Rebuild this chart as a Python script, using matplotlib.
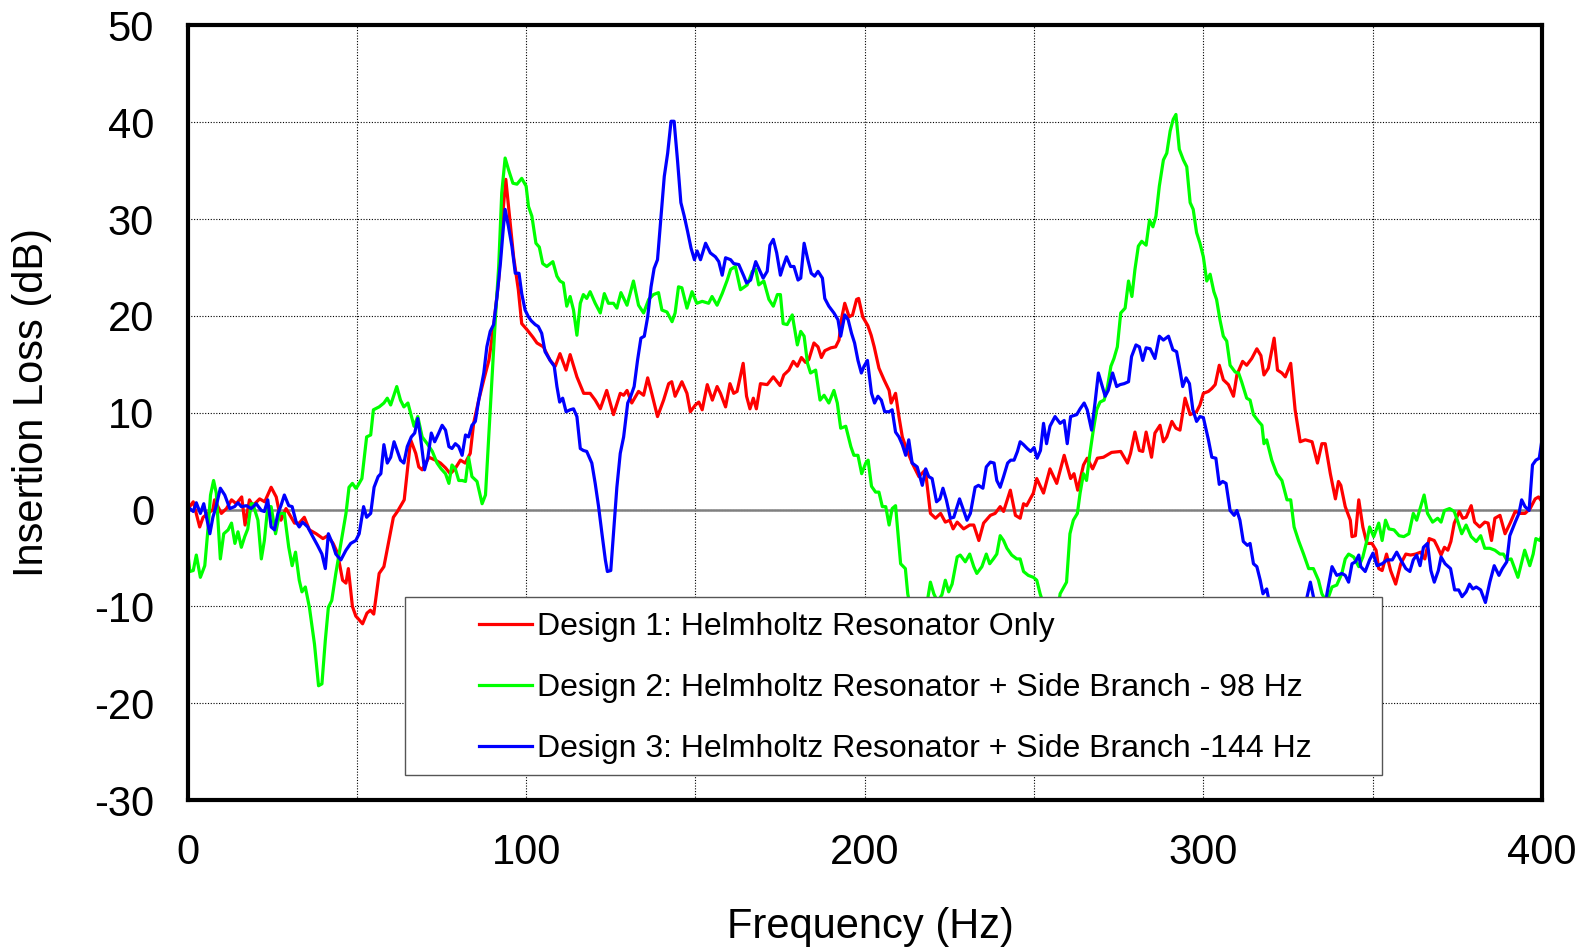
import numpy as np
import matplotlib
matplotlib.use("Agg")
import matplotlib.pyplot as plt
from matplotlib.patches import Rectangle

# (frequency Hz, insertion loss dB)
design1 = [(0, 0.0), (1.7, 0.8), (3.6, -1.8), (4.6, -0.8), (7.5, 0.0), (8, 1.0), (10, -0.4), (11.5, 0.1),
           (13, 1.0), (14.4, 0.6), (16, 1.3), (17, -1.6), (18.3, 1.0), (19.3, 0.4), (21.3, 1.1), (22.8, 0.8),
           (24.7, 2.3), (26.2, 1.3), (27.6, -1.1), (29.1, 0.1), (30.6, -0.8), (31.6, -1.4), (33, -1.4),
           (34.5, -0.8), (36, -2.1), (38, -2.5), (40, -3.0), (41.4, -2.7), (43, -3.5), (44.3, -4.5),
           (45.8, -7.3), (46.8, -7.6), (47.5, -6.1), (48.7, -10.0), (49.7, -11.0), (51.7, -11.8), (53, -10.7),
           (54, -10.4), (55, -10.8), (56.6, -6.6), (58, -5.9), (59.5, -3.2), (60.8, -0.8), (62, -0.2),
           (64, 1.0), (65.9, 7.2), (67.4, 5.8), (68.3, 4.4), (69.3, 4.1), (71.3, 5.4), (73.2, 5.1),
           (74.7, 4.8), (76.2, 4.3), (77.6, 3.7), (79, 4.2), (80.6, 5.1), (82, 4.8), (83.5, 5.8), (84.5, 8.9),
           (86, 11.3), (87.5, 13.4), (89, 15.4), (90.4, 18.9), (91.9, 23.7), (93.3, 31.3), (94, 34.1),
           (94.8, 31.3), (96.3, 26.1), (97.7, 22.7), (98.7, 19.2), (100.2, 18.6), (102, 17.8), (103.2, 17.2),
           (105.1, 16.8), (107.1, 15.4), (108.6, 14.8), (110, 16.1), (111.8, 14.4), (113, 16.0), (115, 13.7),
           (117, 12.0), (118.9, 12.0), (120.4, 11.3), (121.9, 10.4), (123.8, 12.3), (125.8, 9.8), (127.8, 12.0),
           (128.8, 11.8), (129.8, 12.3), (131.2, 11.0), (133.2, 12.2), (134.7, 11.8), (135.9, 13.6),
           (137.1, 12.0), (138.8, 9.6), (140.6, 11.3), (142.1, 13.0), (143, 13.2), (144, 11.7), (146, 13.2),
           (147.5, 12.0), (148.5, 10.1), (150, 10.8), (151, 11.1), (152, 10.3), (153.5, 12.9), (155, 11.3),
           (156.4, 12.7), (157.4, 12.0), (158.9, 10.6), (160.2, 13.0), (161.3, 12.0), (162.3, 12.2),
           (164.1, 15.1), (165.1, 11.7), (166.1, 10.4), (167.1, 11.5), (168, 10.4), (169.2, 13.0), (171.2, 12.9),
           (173, 13.7), (175, 12.8), (176.1, 13.9), (177.6, 14.4), (178.9, 15.3), (180.1, 14.8), (181.3, 15.7),
           (182.5, 15.2), (183.5, 15.5), (185, 17.2), (186.2, 16.8), (187.2, 15.7), (188.2, 16.4), (190, 16.7),
           (191.4, 16.8), (192.4, 17.5), (193.2, 19.8), (194.1, 21.3), (195.4, 19.9), (196.4, 20.1),
           (197.6, 21.7), (198.2, 21.8), (199.4, 19.9), (200.9, 19.0), (201.9, 18.0), (202.8, 16.8),
           (204.2, 14.6), (205.7, 13.4), (207.2, 12.3), (207.8, 11.0), (209.1, 12.0), (210.1, 9.6), (211.1, 7.5),
           (212.5, 6.1), (214, 4.8), (216, 3.4), (217.9, 4.1), (219.4, -0.4), (220.9, -0.9), (222.4, -0.4),
           (223.8, -1.3), (225.1, -1.1), (226.1, -2.0), (227.3, -1.3), (229.2, -2.0), (231, -1.6), (232.2, -1.6),
           (233.7, -3.2), (235.1, -1.4), (237.1, -0.6), (238.5, -0.4), (240, 0.3), (241, -0.2), (243, 2.0),
           (244.5, -0.6), (245.9, -0.9), (246.9, 0.6), (247.8, 0.4), (249.8, 1.7), (250.8, 3.2), (252.8, 1.7),
           (254.7, 4.2), (256.7, 2.7), (258.9, 5.6), (260.8, 3.2), (261.8, 3.7), (262.9, 2.0), (264.6, 4.6),
           (265.7, 5.3), (267.3, 4.2), (268.7, 5.3), (270.5, 5.4), (272.9, 5.9), (275.6, 6.0), (277.6, 4.8),
           (278.5, 5.8), (279.8, 8.0), (281.1, 6.1), (282.1, 6.0), (283.1, 8.0), (284.7, 5.4), (285.7, 7.9),
           (287.2, 8.7), (288.2, 7.0), (289.2, 7.5), (290.7, 9.1), (291.9, 8.4), (293.1, 8.2), (294.6, 11.5),
           (296.1, 9.8), (298, 10.1), (299, 10.8), (300, 12.0), (301.5, 12.2), (302.5, 12.5), (303.5, 12.9),
           (304.7, 14.9), (305.9, 13.4), (307.4, 12.9), (308.9, 11.7), (309.9, 13.9), (311.6, 15.3),
           (312.8, 14.9), (314.3, 15.6), (315.8, 16.6), (317, 15.9), (317.9, 13.9), (319.2, 14.6), (320.9, 17.7),
           (321.9, 14.4), (323.2, 14.1), (324.2, 13.7), (325.8, 15.1), (327.1, 10.3), (328.6, 7.0), (330.1, 7.2),
           (332.1, 7.0), (333.7, 4.8), (335, 6.8), (336, 6.8), (337.5, 3.7), (339, 1.1), (339.9, 2.9),
           (340.6, 2.5), (341.9, 0.3), (343.4, -1.1), (343.9, -2.8), (344.9, -2.7), (345.9, 1.0), (347.1, -1.8),
           (348.3, -3.5), (349.8, -3.5), (351, -4.2), (351.8, -6.1), (352.8, -6.3), (354.1, -4.6), (355.3, -6.3),
           (356.8, -7.7), (358.3, -5.6), (359.8, -4.6), (361.2, -4.7), (362.7, -4.6), (364.2, -4.4),
           (365.4, -5.1), (366.7, -3.0), (368.2, -3.2), (369.2, -3.9), (370.2, -4.7), (371.2, -3.9),
           (372.2, -4.2), (373.1, -3.3), (374.1, -1.4), (375.6, -0.2), (376.6, -0.9), (377.6, -0.8), (379.1, 0.4),
           (380.1, -1.3), (381.6, -1.8), (383.1, -1.3), (384.1, -1.4), (385.1, -3.2), (386.1, -0.9),
           (387.6, -0.6), (389.1, -2.5), (390.6, -1.4), (392.1, -0.2), (393.6, -0.4), (395, -0.4), (396.5, 0.1),
           (398, 1.1), (399, 1.3), (400, 0.8)]

design2 = [(0, -4.2), (0.7, -6.4), (1.7, -6.3), (2.6, -4.7), (3.8, -7.0), (5.1, -5.8), (6.1, -1.8), (6.8, 1.5),
           (7.7, 3.0), (8.5, 1.7), (9.7, -5.1), (10.7, -2.5), (12, -2.1), (13, -1.4), (14, -3.5), (14.9, -2.3),
           (15.9, -3.9), (16.9, -2.8), (17.8, -2.0), (18.8, 0.6), (19.3, 0.6), (20.8, -1.1), (21.8, -5.1),
           (22.7, -3.2), (23.7, 0.3), (24.7, 0.3), (26, -2.5), (27.2, -0.4), (28.6, -0.4), (29.9, -3.9),
           (30.9, -5.8), (31.9, -4.4), (33, -7.3), (33.8, -8.5), (34.8, -8.0), (36, -10.1), (37.5, -13.9),
           (38.7, -18.2), (39.7, -18.0), (40.7, -13.5), (41.6, -10.1), (42.6, -9.4), (43.8, -6.6), (45.3, -3.5),
           (46.8, -0.4), (47.7, 2.3), (48.7, 2.7), (49.7, 2.2), (50.2, 2.4), (51.5, 3.2), (52.9, 7.5),
           (54.1, 7.7), (54.9, 10.3), (56.6, 10.6), (58, 11.0), (59, 11.5), (60, 10.8), (61.8, 12.7),
           (62.9, 11.3), (63.9, 10.6), (65.1, 11.0), (66.9, 8.6), (68, 9.6), (69.3, 7.5), (70.8, 6.8), (72.3, 6.0),
           (73.7, 4.8), (74.9, 4.2), (76.2, 3.7), (77.2, 2.7), (78.1, 4.6), (79.1, 4.2), (80.1, 3.0), (81.1, 3.0),
           (82.1, 2.9), (83, 5.4), (84, 3.4), (85.5, 2.9), (87, 0.6), (88, 1.5), (88.9, 7.2), (89.9, 13.4),
           (90.9, 19.6), (91.9, 25.1), (92.8, 32.7), (93.8, 36.3), (94.8, 35.1), (96.1, 33.7), (97.3, 33.6),
           (98.7, 34.2), (100, 33.4), (100.7, 31.3), (101.7, 30.3), (102.9, 27.5), (103.9, 27.1), (104.9, 25.4),
           (106.1, 25.1), (107.9, 25.6), (109.1, 24.1), (110, 23.6), (111, 23.4), (112, 21.0), (113, 22.0),
           (114, 20.6), (115, 18.0), (116, 21.3), (116.9, 22.2), (117.9, 21.8), (118.9, 22.5), (120.4, 21.3),
           (121.9, 20.3), (123.1, 22.3), (124.3, 21.3), (125.8, 21.3), (126.8, 20.8), (128, 22.4), (129.8, 21.1),
           (131.7, 23.6), (133.2, 21.1), (134.7, 20.3), (136.2, 21.7), (137.6, 22.2), (139.1, 22.4),
           (140.1, 20.6), (141.6, 20.4), (143.1, 19.4), (144, 20.3), (145, 23.0), (146, 22.9), (147.5, 20.8),
           (149, 22.5), (150.4, 21.3), (152, 21.5), (153.9, 21.3), (154.9, 22.0), (156.4, 21.1), (157.9, 22.3),
           (159.4, 23.7), (160.4, 24.8), (161.8, 25.1), (163.3, 22.7), (165.3, 23.2), (166.8, 24.6),
           (167.8, 24.8), (168.7, 23.2), (170.2, 23.6), (171.7, 21.7), (173, 21.0), (174.2, 22.2), (175.1, 22.2),
           (175.9, 19.2), (177.1, 19.1), (178.6, 20.1), (180.1, 17.0), (181.1, 18.4), (182.1, 17.9),
           (183.1, 15.1), (184, 14.1), (185.5, 14.4), (186.8, 11.3), (188, 11.8), (189.4, 11.0), (190.9, 12.3),
           (191.9, 11.0), (192.9, 8.4), (194.4, 8.6), (195.9, 6.5), (196.8, 5.6), (198, 5.6), (199.1, 3.7),
           (200.3, 4.8), (201, 5.1), (202, 2.4), (203.2, 1.8), (204.2, 1.8), (205.2, 0.3), (206.2, 0.3),
           (207.2, -1.6), (208.1, 0.1), (209.1, 0.4), (210.6, -5.6), (212, -6.1), (212.7, -8.7), (214, -11.0),
           (216, -12.0), (218, -10.5), (219.4, -7.5), (220.4, -8.7), (221.5, -9.5), (222.8, -8.8), (223.8, -7.3),
           (224.8, -8.5), (225.8, -7.7), (227.3, -4.9), (228.2, -4.7), (229.7, -5.4), (231, -4.6), (232.2, -5.9),
           (233.1, -6.6), (234.6, -5.9), (235.9, -4.6), (236.9, -5.6), (238, -5.1), (239, -4.6), (240, -2.7),
           (241, -3.2), (242, -4.0), (243.4, -4.7), (244.9, -5.1), (245.9, -5.1), (246.9, -6.4), (248.3, -6.8),
           (249.8, -7.0), (250.8, -7.3), (251.8, -8.7), (253, -10.0), (255, -12.0), (257, -10.5), (257.7, -8.7),
           (259.6, -7.5), (260.6, -2.5), (261.6, -1.1), (262.8, -0.4), (263.6, 1.7), (264.6, 3.7), (265.5, 3.0),
           (266.5, 5.8), (267.5, 8.2), (268.5, 10.3), (269.5, 11.1), (270.7, 11.3), (271.7, 12.7), (272.7, 14.8),
           (273.6, 15.6), (274.6, 16.8), (275.6, 20.3), (276.9, 20.8), (277.9, 23.6), (278.9, 22.0),
           (279.8, 24.8), (280.8, 27.2), (281.8, 27.7), (283.1, 27.3), (284.1, 29.9), (285.1, 29.2), (286, 30.3),
           (287, 33.4), (288.2, 36.1), (289.2, 36.8), (290.2, 39.1), (291.1, 40.3), (291.9, 40.8), (292.9, 37.2),
           (294.1, 36.1), (295.1, 35.4), (296.1, 31.7), (297, 31.0), (298, 28.6), (299, 27.5), (300, 26.1),
           (301, 23.6), (302, 24.3), (303.1, 22.5), (303.9, 21.7), (304.9, 19.6), (305.9, 17.9), (306.9, 17.4),
           (307.9, 14.9), (309.4, 14.2), (310.4, 14.1), (311.3, 13.2), (312.8, 11.5), (313.8, 11.3),
           (314.8, 9.8), (316.3, 9.1), (317.3, 8.7), (317.9, 6.8), (318.7, 7.2), (320.2, 5.1), (321.7, 3.7),
           (323.2, 3.0), (324.7, 1.0), (325.8, 1.0), (326.8, -1.8), (328.1, -3.2), (329.6, -4.6), (331.1, -6.1),
           (332.5, -6.1), (334, -7.3), (335, -8.7), (336, -9.3), (337, -9.0), (338, -8.0), (339.4, -7.8),
           (340.9, -6.6), (341.9, -5.1), (342.9, -4.6), (344.4, -4.9), (345.9, -5.9), (347.1, -4.9),
           (348.3, -3.2), (349.1, -1.8), (350.3, -2.8), (351.8, -1.4), (352.8, -3.2), (353.8, -1.1), (354.8, -2.0),
           (356.3, -2.1), (357.8, -2.7), (359.2, -2.8), (360.7, -2.5), (362, -0.4), (363, -1.1), (364.2, 0.3),
           (365.2, 1.5), (366.2, -0.4), (367.7, -1.3), (369.2, -0.9), (370.2, -1.3), (371.2, -0.1), (372.7, 0.1),
           (374.1, -0.2), (375.3, -1.4), (376.3, -2.5), (377.6, -1.6), (379.1, -2.8), (380.6, -3.3),
           (381.9, -2.7), (383.1, -4.0), (384.6, -4.0), (386.1, -4.2), (387.6, -4.6), (388.6, -4.6),
           (389.6, -5.2), (390.9, -5.1), (392.9, -7.0), (393.9, -5.6), (394.9, -4.2), (396.4, -5.8),
           (397.4, -4.6), (398.2, -3.0), (399.4, -3.2), (400, -2.6)]

design3 = [(0, -0.4), (0.7, 0.1), (1.7, -0.2), (2.6, 0.7), (3.8, -0.4), (4.8, 0.6), (5.8, -1.1), (6.6, -2.5),
           (7.5, -0.8), (8.5, 0.4), (9.7, 2.2), (11, 1.5), (12.5, 0.1), (13.9, 0.3), (14.9, 0.7), (15.9, 0.3),
           (17.4, 0.4), (18.8, 0.1), (20.3, 0.6), (21.8, -0.1), (22.7, -0.2), (23.7, 1.0), (24.7, -1.8),
           (25.7, -2.1), (26.7, -0.4), (27.6, 0.4), (28.6, 1.5), (29.9, 0.4), (30.9, 0.3), (32.1, -1.3),
           (33, -1.8), (34, -1.3), (35.5, -1.8), (37, -2.8), (38.4, -3.7), (39.7, -4.6), (40.7, -6.1),
           (41.6, -2.5), (42.8, -3.5), (43.8, -4.6), (45.3, -5.2), (46.8, -4.2), (48.2, -3.5), (49.7, -3.2),
           (50.7, -2.5), (52, 0.3), (52.9, -0.8), (54.1, -0.4), (55.1, 2.3), (56.3, 3.4), (57.1, 3.7), (58, 6.7),
           (59, 4.8), (60, 5.4), (61, 7.0), (62, 6.0), (62.9, 5.1), (63.9, 4.8), (64.9, 6.5), (66.1, 7.5),
           (67.1, 7.9), (68, 9.4), (68.8, 7.5), (70, 4.1), (71, 5.4), (72, 7.9), (73, 7.0), (74.2, 7.9),
           (75.2, 8.7), (76.2, 8.2), (77.2, 6.5), (78.1, 6.3), (79.1, 6.8), (80.1, 6.5), (81.1, 5.6), (82.1, 7.7),
           (83, 7.5), (84, 8.7), (85, 9.1), (86, 11.3), (87.5, 14.1), (88.4, 16.8), (89.4, 18.4), (90.4, 19.1),
           (91.4, 22.0), (92.4, 25.4), (93.3, 29.2), (93.8, 31.0), (94.8, 29.2), (95.8, 27.2), (96.8, 24.4),
           (97.9, 24.4), (98.7, 22.3), (99.7, 20.6), (100.7, 19.9), (101.5, 19.5), (102.7, 19.1), (103.6, 18.9),
           (104.6, 18.2), (105.6, 16.3), (107.1, 15.4), (108.3, 14.8), (109.1, 12.7), (109.9, 11.1),
           (110.8, 11.5), (111.8, 10.1), (113, 10.3), (114, 10.4), (115, 9.6), (116, 6.3), (116.9, 6.1),
           (117.9, 6.0), (119.4, 4.8), (120.4, 2.7), (121.4, 0.3), (122.4, -2.5), (123.4, -5.2), (124, -6.4),
           (125, -6.3), (125.8, -2.5), (126.8, 2.3), (127.8, 5.8), (128.8, 7.5), (130, 11.0), (130.9, 11.7),
           (131.9, 12.7), (132.9, 15.4), (133.9, 17.7), (134.9, 17.9), (135.9, 19.9), (136.9, 23.0),
           (137.8, 24.9), (138.8, 25.8), (139.8, 30.1), (140.8, 34.4), (141.8, 36.8), (142.8, 40.1),
           (143.7, 40.1), (144.7, 36.1), (145.7, 31.7), (146.7, 30.3), (147.7, 28.7), (148.7, 27.0),
           (149.7, 25.8), (150.5, 26.7), (151.5, 25.8), (153, 27.5), (154.4, 26.5), (155.9, 26.1), (156.9, 25.6),
           (157.9, 24.2), (158.9, 26.0), (160.4, 25.8), (161.3, 25.4), (162.8, 25.3), (164.3, 24.1),
           (165.1, 23.4), (166.3, 23.7), (167.8, 25.6), (168.7, 24.9), (170, 23.9), (171.2, 24.6), (172, 27.3),
           (173, 27.9), (174, 26.5), (175.1, 24.2), (175.9, 25.1), (176.9, 26.1), (178.1, 25.1), (179.1, 25.1),
           (180.3, 23.7), (181.1, 23.9), (182.1, 27.5), (183.2, 25.8), (184.2, 24.4), (185.2, 24.1),
           (186.2, 24.6), (187.5, 23.9), (188.2, 21.8), (189.4, 21.0), (190.9, 20.3), (192.1, 19.6),
           (192.9, 17.9), (194.1, 20.1), (195.1, 19.6), (196.1, 18.2), (197, 17.2), (198, 15.4), (199, 14.1),
           (199.8, 14.8), (200.8, 15.4), (202, 12.0), (202.9, 11.0), (203.9, 11.7), (204.9, 11.3), (205.9, 10.1),
           (207.2, 10.1), (208.1, 10.3), (209.1, 8.0), (210.1, 7.5), (211.1, 6.7), (212.1, 5.6), (213, 7.2),
           (214, 4.8), (215.5, 4.4), (217, 2.5), (218, 4.2), (218.9, 3.4), (219.9, 3.2), (221.2, 0.8),
           (222.2, 1.1), (223.1, 2.2), (224.1, 1.0), (225.3, -0.9), (226.3, -0.8), (228, 1.1), (229.2, -0.1),
           (230.2, -1.1), (231.2, -0.4), (232.6, 2.3), (233.6, 2.5), (234.9, 2.2), (235.9, 4.4), (237.1, 4.9),
           (238.2, 4.8), (239, 3.0), (240, 2.3), (241, 3.4), (242.2, 4.8), (243.1, 5.1), (244.1, 5.1),
           (245.1, 6.0), (245.9, 7.0), (246.9, 6.7), (248, 6.3), (249, 6.0), (250, 6.4), (250.9, 5.3),
           (251.9, 6.1), (252.8, 8.9), (253.7, 6.8), (254.7, 8.6), (256.2, 9.6), (257.7, 8.9), (258.9, 9.2),
           (259.8, 6.8), (260.8, 9.6), (262.6, 9.8), (263.6, 10.4), (264.8, 11.0), (265.7, 10.3), (267, 8.2),
           (268, 11.0), (269, 14.1), (270, 12.9), (271, 11.7), (271.9, 12.3), (273.2, 14.1), (274.4, 12.7),
           (275.4, 12.9), (276.6, 13.0), (277.9, 13.2), (278.8, 15.8), (280.1, 17.0), (281.1, 16.8),
           (282.1, 15.4), (283.1, 16.7), (284.3, 16.6), (285.7, 15.6), (287, 17.9), (288.2, 17.5), (289.7, 17.9),
           (291, 16.5), (292.1, 16.3), (293.1, 14.4), (293.9, 12.7), (294.9, 13.6), (295.9, 13.0), (296.9, 10.3),
           (298, 9.1), (299, 9.6), (300, 9.5), (301.5, 7.2), (302.5, 5.4), (303.7, 5.3), (304.7, 2.6),
           (305.7, 2.9), (306.7, 2.7), (307.9, -0.1), (309.1, -0.6), (309.9, -0.1), (310.8, -1.1), (311.8, -3.3),
           (313, -3.7), (313.8, -3.5), (314.8, -5.6), (315.8, -5.9), (316.8, -7.3), (317.6, -8.7), (318.7, -8.2),
           (320, -10.5), (322, -12.0), (324, -13.0), (326, -12.5), (328, -11.0), (330, -10.0), (331.6, -7.5),
           (332.5, -9.0), (334, -11.0), (336, -10.0), (336.5, -8.7), (338, -5.9), (339.4, -6.8), (340.9, -6.6),
           (341.9, -6.8), (342.9, -7.5), (343.9, -5.6), (344.9, -5.4), (345.9, -4.7), (346.5, -5.9),
           (347.8, -6.4), (349.1, -5.2), (350.1, -4.5), (351.3, -5.8), (352.8, -5.6), (354.3, -5.2),
           (355.8, -5.2), (357.1, -4.4), (358.3, -5.2), (359.8, -6.1), (361, -6.4), (362, -5.2), (363, -4.7),
           (364, -5.8), (365, -3.9), (366.2, -3.5), (367.2, -6.3), (368.2, -7.5), (369.4, -6.3), (370.2, -4.9),
           (371.4, -5.6), (373, -6.1), (374.2, -8.3), (375.4, -8.3), (376.4, -9.0), (377.6, -8.5), (378.6, -7.7),
           (379.6, -8.2), (380.6, -8.0), (381.9, -8.3), (383.3, -9.6), (384.6, -7.5), (385.9, -5.8),
           (387.3, -6.8), (388.3, -6.1), (389.6, -5.4), (390.5, -2.7), (392.1, -1.3), (393.2, -0.4), (394, 1.0),
           (395, 0.3), (396.2, -0.1), (397.2, 4.6), (398.2, 5.1), (399.2, 5.3), (400, 7.2)]

labels = ["Design 1: Helmholtz Resonator Only",
          "Design 2: Helmholtz Resonator + Side Branch - 98 Hz",
          "Design 3: Helmholtz Resonator + Side Branch -144 Hz"]
colors = ["#FF0000", "#00FF00", "#0000FF"]

x_ticks = [0, 100, 200, 300, 400]
x_minor = [50, 150, 250, 350]
y_ticks = [-30, -20, -10, 0, 10, 20, 30, 40, 50]

plt.rcParams["font.family"] = ["Liberation Sans", "DejaVu Sans"]
plt.rcParams["axes.unicode_minus"] = False

fig = plt.figure(figsize=(15.89, 9.47), dpi=100)
ax = fig.add_axes([0.118, 0.1552, 0.8524, 0.818])
ax.set_axisbelow(True)

for data, lab, col in zip([design1, design2, design3], labels, colors):
    f, il = np.array(data).T
    ax.plot(f, il, color=col, lw=2.3, label=lab, zorder=3)

ax.set_xlim(0, 400)
ax.set_ylim(-30, 50)
ax.set_xticks(x_ticks)
ax.set_xticks(x_minor, minor=True)
ax.set_yticks(y_ticks)

dots = (0, (1, 1.5))
ax.grid(True, which="both", axis="x", color="black", lw=0.8, ls=dots)
ax.grid(True, which="major", axis="y", color="black", lw=0.8, ls=dots)
ax.axhline(0, color="#808080", lw=1.8, zorder=2.5)

ax.tick_params(which="both", length=0, labelsize=30, pad=24)
for sp in ax.spines.values():
    sp.set_linewidth(3)
    sp.set_zorder(6)

ax.set_xlabel("Frequency (Hz)", fontsize=30, labelpad=24, x=0.5045)
ax.set_ylabel("Insertion Loss (dB)", fontsize=30, labelpad=30, y=0.513)

# legend box drawn separately so the padding matches the original
box = Rectangle((0.1606, 0.0323), 0.7213, 0.2301, transform=ax.transAxes,
                facecolor="white", edgecolor="#555555", lw=1.0, zorder=4)
ax.add_patch(box)
leg = ax.legend(loc="upper left", bbox_to_anchor=(0.2152, 0.2430), frameon=False,
                fontsize=23, handlelength=1.66, handletextpad=0.15, labelspacing=0.97,
                borderpad=0, borderaxespad=0)
leg.set_zorder(5)

fig.savefig("out.png", dpi=100)
